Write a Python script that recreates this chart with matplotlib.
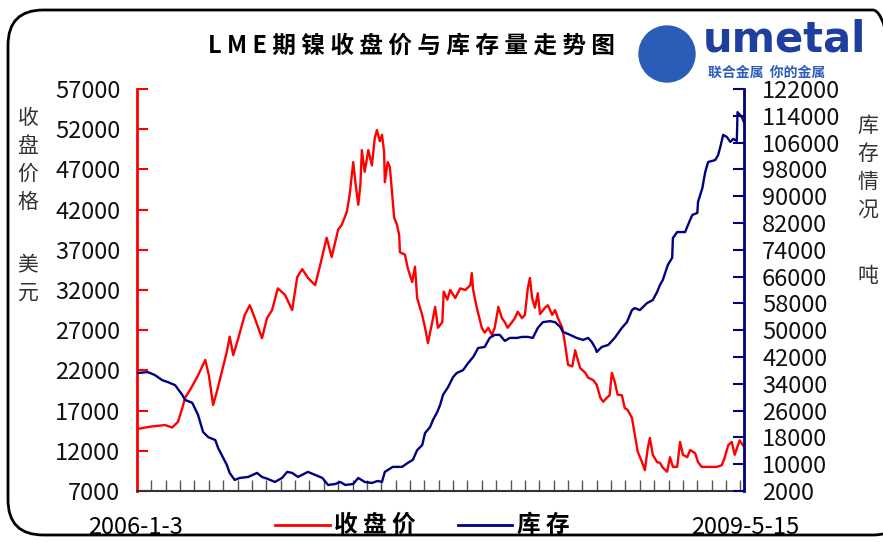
import numpy as np
import matplotlib
matplotlib.use("Agg")
from matplotlib import pyplot as plt
from matplotlib.patches import FancyBboxPatch, Ellipse

plt.rcParams['font.family'] = ['Noto Sans CJK SC', 'DejaVu Sans']

# trading-day index (0 = 2006-1-3, 845 = 2009-5-15) and values
price_day = [0, 18, 39, 49, 57, 63, 67, 74, 84, 95, 100, 106, 111, 118, 125, 129, 134, 141,
             150, 157, 164, 174, 181, 188, 196, 206, 216, 223, 230, 238, 248, 255, 264, 271,
             280, 285, 292, 296, 299, 301, 304, 308, 311, 313, 317, 322, 327, 331, 334, 338,
             341, 344, 345, 349, 352, 355, 358, 362, 365, 366, 373, 377, 383, 387, 390, 397,
             401, 405, 411, 415, 419, 425, 427, 432, 436, 443, 450, 457, 464, 466, 468, 473,
             480, 484, 489, 494, 498, 503, 508, 512, 516, 522, 526, 530, 536, 540, 544, 547,
             550, 554, 558, 561, 568, 572, 578, 582, 586, 592, 596, 600, 606, 610, 612, 617,
             624, 628, 635, 640, 645, 649, 654, 658, 661, 665, 669, 675, 679, 683, 689, 693,
             697, 703, 707, 711, 714, 718, 724, 728, 732, 738, 742, 746, 752, 756, 760, 766,
             770, 777, 781, 786, 793, 800, 807, 814, 818, 823, 828, 832, 839, 845]
price = [14700, 15000, 15200, 14900, 15600, 17300, 18600, 19600, 21200, 23300, 21400, 17700,
         19300, 21800, 24300, 26200, 23900, 26000, 28900, 30100, 28500, 26000, 28500, 29500,
         32200, 31400, 29500, 33600, 34600, 33500, 32600, 35100, 38500, 36100, 39500, 40100,
         41700, 43800, 46300, 47900, 45400, 42600, 45100, 49400, 46700, 49400, 47500, 50900,
         51900, 50500, 51300, 49200, 45400, 47900, 47300, 44200, 41000, 40100, 38800, 36700,
         36400, 34700, 33000, 34900, 31000, 28900, 27300, 25400, 28000, 29900, 27300, 28000,
         31800, 30800, 32000, 31000, 32200, 32000, 32600, 34100, 32000, 29800, 27300, 26700,
         27300, 26400, 27300, 29900, 28500, 28000, 27300, 28000, 28500, 29300, 28500, 28900,
         32200, 33500, 31000, 29800, 31600, 29000, 29800, 30100, 28900, 29500, 28500, 27300,
         25200, 22700, 22500, 24500, 23800, 22300, 21700, 21100, 20800, 20200, 18600, 18100,
         18600, 18900, 21700, 20600, 19000, 18900, 17300, 17100, 16100, 14000, 11900, 10600,
         9600, 12300, 13600, 11500, 10600, 10500, 9900, 9400, 11200, 10000, 10000, 13100,
         11500, 11200, 12100, 11700, 10600, 10000, 10000, 10000, 10000, 10200, 11100, 12700,
         13100, 11500, 13300, 12500]

stock_day = [0, 15, 25, 35, 43, 53, 63, 67, 77, 85, 92, 99, 109, 113, 120, 125, 129, 136,
             143, 155, 167, 174, 182, 192, 202, 209, 216, 224, 238, 248, 258, 266, 276, 283,
             290, 301, 308, 317, 327, 335, 341, 345, 356, 369, 377, 384, 390, 397, 401, 408,
             412, 418, 422, 426, 433, 440, 445, 454, 461, 468, 475, 484, 491, 498, 505, 512,
             519, 529, 536, 544, 551, 558, 565, 575, 582, 589, 593, 603, 612, 621, 628, 633,
             638, 640, 647, 656, 665, 675, 682, 689, 693, 700, 710, 718, 724, 728, 732, 739,
             745, 746, 752, 763, 767, 773, 780, 781, 787, 791, 795, 805, 809, 812, 816, 821,
             826, 830, 835, 836, 842, 845]
stock = [37200, 37500, 36600, 35100, 34500, 33600, 30700, 29200, 28300, 24700, 19600, 18100,
         17200, 14800, 11900, 9800, 7400, 5300, 5900, 6200, 7400, 6200, 5600, 4700, 5900, 7700,
         7400, 6200, 7700, 6800, 5900, 3800, 4100, 4700, 3800, 4100, 5900, 4700, 4400, 5000,
         4700, 7700, 9200, 9200, 10400, 11300, 14200, 15700, 19300, 21100, 23200, 25600, 27700,
         30700, 33000, 36000, 37200, 38100, 40200, 42000, 44700, 45000, 47700, 48600, 48600,
         46800, 47700, 47700, 48000, 48000, 47700, 50700, 52400, 52700, 52400, 51000, 49500,
         48600, 47700, 47100, 47700, 46500, 44700, 43500, 45000, 45600, 47700, 50700, 52400,
         56000, 56600, 56000, 58100, 59000, 61400, 63500, 65000, 69500, 71600, 77500, 79300,
         79300, 81400, 84400, 85000, 88300, 92400, 97200, 100200, 100800, 102300, 104700,
         108300, 107700, 106200, 107100, 106500, 115100, 113600, 112100]

price_ticks = np.arange(7000, 57001, 5000)
stock_ticks = np.arange(2000, 122001, 8000)
start_label = "2006-1-3"
end_label = "2009-5-15"
title = "LME期镍收盘价与库存量走势图"

RED = "#ff0000"
NAVY = "#000080"
W, H = 883, 542

fig = plt.figure(figsize=(W / 100, H / 100), dpi=100)

# rounded outer frame
frame = FancyBboxPatch((8 / W, 7 / H), 900 / W, 525 / H,
                       boxstyle="round,pad=0,rounding_size=0.04",
                       transform=fig.transFigure, fill=False, ec="black", lw=2.0,
                       mutation_aspect=W / H)
fig.patches.append(frame)

ax = fig.add_axes([137 / W, 51 / H, 607 / W, 402 / H])
ax2 = ax.twinx()

ax.plot(price_day, price, color=RED, lw=1.7, zorder=3)
ax2.plot(stock_day, stock, color=NAVY, lw=1.7)

ax.set_xlim(0, 845)
ax.set_ylim(7000, 57000)
ax2.set_ylim(2000, 122000)
ax.set_yticks(price_ticks)
ax2.set_yticks(stock_ticks)
ax.set_xticks(np.arange(0, 846, 20))
ax.set_xticklabels([])

for a in (ax, ax2):
    a.spines['top'].set_visible(False)
    a.patch.set_visible(False)
ax.spines['right'].set_visible(False)
ax.spines['left'].set_color(RED)
ax.spines['left'].set_linewidth(2)
ax.spines['bottom'].set_color("#333333")
ax.spines['bottom'].set_linewidth(1.5)
ax2.spines['left'].set_visible(False)
ax2.spines['bottom'].set_visible(False)
ax2.spines['right'].set_color(NAVY)
ax2.spines['right'].set_linewidth(2)

ax.tick_params(axis='y', direction='in', length=8, width=1.5, color=RED,
               labelsize=17, pad=12, labelcolor="#111111")
ax.tick_params(axis='x', direction='in', length=8, width=1.0, color="#555555")
ax2.tick_params(axis='y', direction='in', length=8, width=1.5, color=NAVY,
                labelsize=17, pad=13, labelcolor="#111111")

# titles and axis notes
fig.text(411 / W, 1 - 46 / H, " ".join(title), ha='center', va='center',
         fontsize=17, fontweight='bold')
fig.text(28 / W, 1 - 160 / H, "收\n盘\n价\n格", ha='center', va='center',
         fontsize=15, color="#333333", linespacing=1.35)
fig.text(28 / W, 1 - 279 / H, "美\n元", ha='center', va='center',
         fontsize=15, color="#333333", linespacing=1.35)
fig.text(868 / W, 1 - 168 / H, "库\n存\n情\n况", ha='center', va='center',
         fontsize=15, color="#333333", linespacing=1.35)
fig.text(868 / W, 1 - 276 / H, "吨", ha='center', va='center',
         fontsize=15, color="#333333")

fig.text(136 / W, 1 - 527 / H, start_label, ha='center', va='center', fontsize=17)
fig.text(745 / W, 1 - 527 / H, end_label, ha='center', va='center', fontsize=17)

# legend
fig.add_artist(plt.Line2D([275 / W, 330 / W], [1 - 525 / H] * 2, color=RED, lw=2,
                          transform=fig.transFigure))
fig.text(334 / W, 1 - 525 / H, "收 盘 价", ha='left', va='center', fontsize=17,
         fontweight='bold')
fig.add_artist(plt.Line2D([458 / W, 512 / W], [1 - 525 / H] * 2, color=NAVY, lw=2,
                          transform=fig.transFigure))
fig.text(517 / W, 1 - 525 / H, "库 存", ha='left', va='center', fontsize=17,
         fontweight='bold')

# logo
fig.patches.append(Ellipse((667 / W, 1 - 54 / H), 56 / W, 56 / H, transform=fig.transFigure,
                           color="#2a5cb8", zorder=5))
fig.text(703 / W, 1 - 40 / H, "umetal", ha='left', va='center', fontsize=30,
         fontweight='bold', color="#1f3f9f", family=['DejaVu Sans'])
fig.text(708 / W, 1 - 73 / H, "联合金属  你的金属", ha='left', va='center', fontsize=10,
         fontweight='bold', color="#2a5cb8")

fig.savefig("out.png", dpi=100)
